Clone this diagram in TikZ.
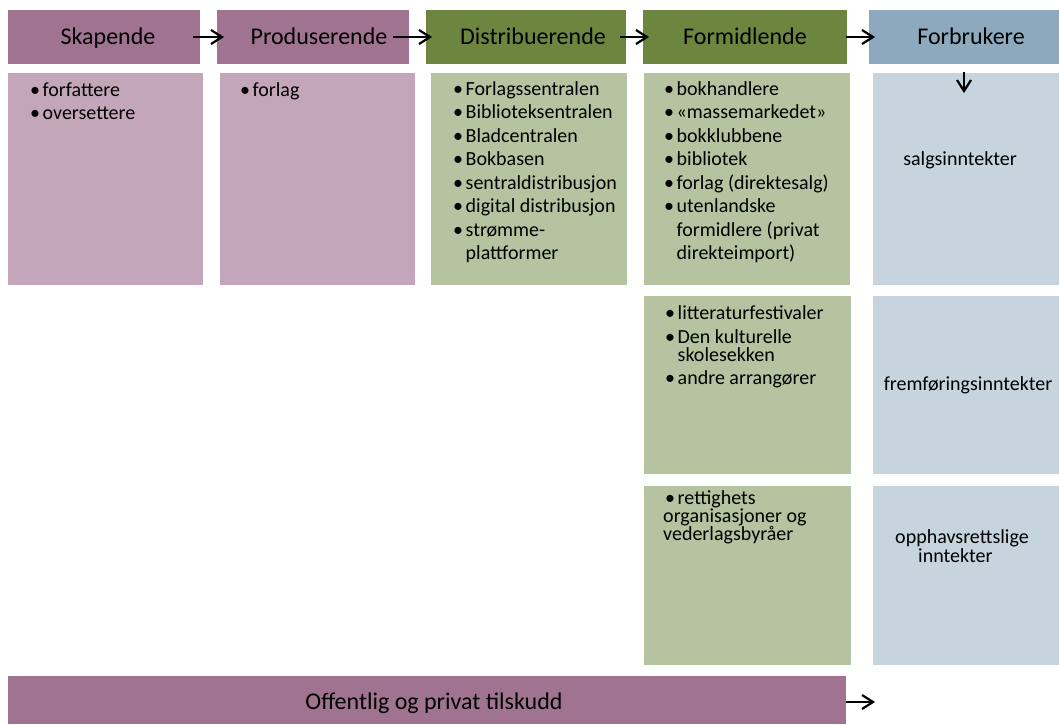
\documentclass[tikz,border=0pt]{standalone}
\usepackage{fontspec}
\setmainfont{Carlito}
\definecolor{purpleH}{HTML}{A07490}
\definecolor{purpleL}{HTML}{C4A6BB}
\definecolor{greenH}{HTML}{6C853F}
\definecolor{greenL}{HTML}{B5C3A0}
\definecolor{blueH}{HTML}{8CA9BD}
\definecolor{blueL}{HTML}{C6D4DE}
\newcommand\bl[1]{\hbox{\makebox[12.5pt][l]{•}#1}}
\newcommand\cl[1]{\hbox{\hspace*{12.5pt}#1}}
\newcommand\setbs[1]{\baselineskip=#1\lineskiplimit=-100pt\lineskip=0pt}
\begin{document}
\begin{tikzpicture}[x=1pt,y=-1pt,
  box/.style={draw=none,inner sep=0pt,outer sep=0pt,anchor=north west},
  htext/.style={anchor=base,inner sep=0pt,font=\fontsize{24}{28}\selectfont},
  ctext/.style={anchor=base west,inner sep=0pt,font=\fontsize{20}{23.5}\selectfont},
  rtext/.style={anchor=base,inner sep=0pt,font=\fontsize{20}{23.5}\selectfont},
  conn/.style={line width=2.2pt,line join=miter}]
\useasboundingbox (0,0) rectangle (1059,724);
% header boxes
\node[box,fill=purpleH,minimum width=192pt,minimum height=54pt] (sk) at (8,10) {};
\node[box,fill=purpleH,minimum width=192pt,minimum height=54pt] (pr) at (217,10) {};
\node[box,fill=greenH,minimum width=200pt,minimum height=54pt] (di) at (426,10) {};
\node[box,fill=greenH,minimum width=204pt,minimum height=54pt] (fo) at (643,10) {};
\node[box,fill=blueH,minimum width=190pt,minimum height=54pt] (fb) at (869,10) {};
% content boxes
\node[box,fill=purpleL,minimum width=195pt,minimum height=212pt] (skc) at (8,73) {};
\node[box,fill=purpleL,minimum width=195pt,minimum height=212pt] (prc) at (220,73) {};
\node[box,fill=greenL,minimum width=196pt,minimum height=212pt] (dic) at (431,73) {};
\node[box,fill=greenL,minimum width=206pt,minimum height=212pt] (foc1) at (644,73) {};
\node[box,fill=blueL,minimum width=186pt,minimum height=212pt] (fbc1) at (873,73) {};
\node[box,fill=greenL,minimum width=207pt,minimum height=178pt] (foc2) at (644,296) {};
\node[box,fill=blueL,minimum width=186pt,minimum height=178pt] (fbc2) at (873,296) {};
\node[box,fill=greenL,minimum width=207pt,minimum height=179pt] (foc3) at (644,486) {};
\node[box,fill=blueL,minimum width=186pt,minimum height=179pt] (fbc3) at (873,486) {};
\node[box,fill=purpleH,minimum width=838pt,minimum height=48pt] (bot) at (8,676) {};
% header texts
\node[htext] (tsk) at (108,44) {Skapende};
\node[htext] (tpr) at (319,44) {Produserende};
\node[htext] (tdi) at (533,44) {Distribuerende};
\node[htext] (tfo) at (745,44) {Formidlende};
\node[htext] (tfb) at (971,44) {Forbrukere};
\node[htext] (tbot) at (434,709) {Offentlig og privat tilskudd};
% content texts
\node[ctext] (lsk) at (30,96) {\vtop{\setbs{23.5pt}\bl{forfattere}\bl{oversettere}}};
\node[ctext] (lpr) at (240,96) {\vtop{\setbs{23.5pt}\bl{forlag}}};
\node[ctext] (ldi) at (453,95) {\vtop{\setbs{23.5pt}\bl{Forlagssentralen}\bl{Biblioteksentralen}\bl{Bladcentralen}\bl{Bokbasen}\bl{sentraldistribusjon}\bl{digital distribusjon}\bl{strømme-}\cl{plattformer}}};
\node[ctext] (lfo1) at (664,95) {\vtop{\setbs{23.5pt}\bl{bokhandlere}\bl{«massemarkedet»}\bl{bokklubbene}\bl{bibliotek}\bl{forlag (direktesalg)}\bl{utenlandske}\cl{formidlere (privat}\cl{direkteimport)}}};
\node[ctext] (lfo2) at (665,319) {\vtop{\setbs{24pt}\bl{litteraturfestivaler}\bl{Den kulturelle}\setbs{18pt}\cl{skolesekken}\setbs{23pt}\bl{andre arrangører}}};
\node[ctext] (lfo3) at (665,504) {\vtop{\setbs{18pt}\bl{rettighets}\hbox{\hspace*{-2pt}organisasjoner og}\hbox{\hspace*{-2pt}vederlagsbyråer}}};
\node[rtext] (lfb1) at (960,165) {salgsinntekter};
\node[rtext] (lfb2) at (968,390) {fremføringsinntekter};
\node[ctext] (lfb3) at (895,543) {\vtop{\setbs{19pt}\hbox{opphavsrettslige}\hbox{\hspace*{23pt}inntekter}}};
% arrows (line + open head)
\coordinate (a1s) at ([xshift=-7pt]sk.east);   \coordinate (a1e) at ([xshift=5pt]pr.west);
\coordinate (a2s) at ([xshift=-16pt]pr.east);  \coordinate (a2e) at ([xshift=4pt]di.west);
\coordinate (a3s) at ([xshift=-6pt]di.east);   \coordinate (a3e) at ([xshift=4pt]fo.west);
\coordinate (a4s) at ([xshift=-1pt]fo.east);   \coordinate (a4e) at ([xshift=4pt]fb.west);
\coordinate (a5s) at ([yshift=-8pt]fb.south);  \coordinate (a5e) at ([yshift=-27pt]fb.south);
\coordinate (a6s) at ([yshift=-2pt]bot.east);  \coordinate (a6e) at (873,702);
\foreach \i in {1,2,3,4,6}{
  \draw[conn] (a\i s) -- ([xshift=-1pt]a\i e);
  \draw[conn] ([shift={(-11,-7)}]a\i e) -- (a\i e) -- ([shift={(-11,7)}]a\i e);
}
\draw[conn] (a5s) -- ([yshift=1pt]a5e);
\draw[conn] ([shift={(-7,-11)}]a5e) -- (a5e) -- ([shift={(7,-11)}]a5e);
\end{tikzpicture}
\end{document}
